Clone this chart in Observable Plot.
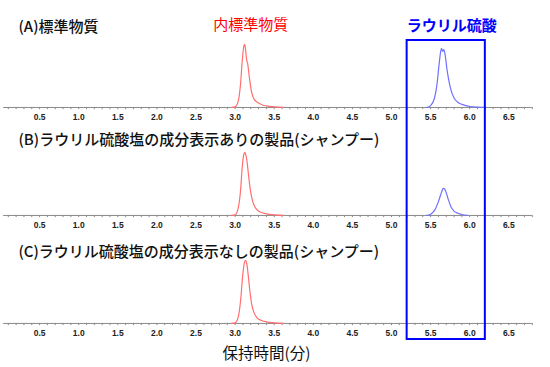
<!DOCTYPE html>
<html><head><meta charset="utf-8">
<script src="https://cdn.jsdelivr.net/npm/d3@7"></script>
<script src="https://cdn.jsdelivr.net/npm/@observablehq/plot@0.6"></script>
<style>body{margin:0;background:#fff}</style>
</head><body><div id="chart"></div>
<script>
// ---- data ----
const panelTitles = ["(A)標準物質", "(B)ラウリル硫酸塩の成分表示ありの製品(シャンプー)", "(C)ラウリル硫酸塩の成分表示なしの製品(シャンプー)"];
const tickLabels = ["0.5","1.0","1.5","2.0","2.5","3.0","3.5","4.0","4.5","5.0","5.5","6.0","6.5"];
const xLabel = "保持時間(分)";
const istdLabel = "内標準物質";
const sdsLabel = "ラウリル硫酸";
// retention time (min), relative intensity
const redA_t = [2.95,3.00,3.04,3.07,3.09,3.11,3.12,3.13,3.14,3.15,3.16,3.18,3.20,3.22,3.25,3.30,3.35,3.40,3.50,3.62];
const redA_v = [0,0.01,0.10,0.38,0.72,0.96,1.00,0.96,0.84,0.74,0.70,0.50,0.32,0.20,0.12,0.07,0.04,0.025,0.01,0];
const blueA_t = [5.45,5.50,5.55,5.58,5.61,5.63,5.64,5.655,5.67,5.69,5.71,5.73,5.76,5.80,5.85,5.90,5.95,6.00,6.10,6.20];
const blueA_v = [0,0.03,0.15,0.35,0.70,0.90,0.94,0.89,0.92,0.80,0.60,0.45,0.28,0.15,0.08,0.05,0.03,0.015,0.005,0];
const redB_t = [2.95,3.00,3.04,3.07,3.09,3.11,3.125,3.135,3.15,3.17,3.19,3.21,3.24,3.28,3.33,3.40,3.50,3.62];
const redB_v = [0,0.01,0.12,0.40,0.75,0.96,1.00,0.97,0.88,0.66,0.45,0.30,0.17,0.09,0.05,0.025,0.01,0];
const blueB_t = [5.45,5.50,5.55,5.60,5.64,5.66,5.68,5.70,5.73,5.76,5.80,5.85,5.90,5.97];
const blueB_v = [0,0.02,0.08,0.22,0.37,0.43,0.42,0.36,0.24,0.14,0.07,0.035,0.015,0];
const redC_t = [2.95,3.00,3.04,3.07,3.10,3.12,3.135,3.15,3.17,3.19,3.21,3.24,3.28,3.33,3.40,3.50,3.62];
const redC_v = [0,0.01,0.10,0.36,0.80,0.97,1.00,0.94,0.74,0.50,0.32,0.18,0.09,0.05,0.025,0.01,0];
const sdsWindow = [5.2, 6.2];

// ---- layout ----
const stride = 1.714;                 // panel spacing in intensity units
const bases = [0, -stride, -2*stride];
const titleRise = [80/63, 75/63, 71/63];
const axisExtent = [0.04, 6.8];
const RED = "#ff6f6f", BLUE = "#7070ff";

const series = [];
function add(ts, vs, panel, color) {
  ts.forEach((t, i) => series.push({t, v: vs[i], y: bases[panel] + vs[i], key: panel + color, color}));
}
add(redA_t, redA_v, 0, RED); add(blueA_t, blueA_v, 0, BLUE);
add(redB_t, redB_v, 1, RED); add(blueB_t, blueB_v, 1, BLUE);
add(redC_t, redC_v, 2, RED);

const minor = d3.range(1, 69).map(i => i / 10);
const minorRows = bases.flatMap(b => minor.map(x => ({x, b})));
const labelRows = bases.flatMap(b => tickLabels.map(l => ({x: +l, l, b})));
const titleRows = panelTitles.map((t, i) => ({t, y: bases[i] + titleRise[i]}));

const JP = "'Noto Sans CJK JP', 'Noto Sans', sans-serif";

const chart = Plot.plot({
  width: 550, height: 367,
  marginTop: 0, marginRight: 0, marginBottom: 0, marginLeft: 0,
  x: {domain: [0, 550/78.2], axis: null},
  y: {domain: [1.698 - 367/63, 1.698], axis: null},
  marks: [
    Plot.ruleY(bases, {x1: axisExtent[0], x2: axisExtent[1], y: d => d, stroke: "#8a8a8a", strokeWidth: 1}),
    Plot.ruleX(minorRows, {x: "x", y1: "b", y2: d => d.b - 0.035, stroke: "#8a8a8a", strokeWidth: 1}),
    Plot.text(labelRows, {x: "x", y: "b", text: "l", dy: 10, fontSize: 8.5, fontWeight: "bold", fontFamily: "'Liberation Sans', Arial, sans-serif", fill: "#222"}),
    Plot.line(series, {x: "t", y: "y", z: "key", stroke: "color", strokeWidth: 1.2, curve: "monotone-x"}),
    Plot.text(titleRows, {x: 0.23, y: "y", text: "t", textAnchor: "start", fontSize: 15, fontWeight: 500, fontFamily: JP, fill: "#111"}),
    Plot.text([istdLabel], {x: 3.2, y: 1.698 - 25/63, text: d => d, fontSize: 15, fontFamily: JP, fill: "#ff0000"}),
    Plot.text([sdsLabel], {x: 5.77, y: 1.698 - 26/63, text: d => d, fontSize: 15, fontWeight: "bold", fontFamily: JP, fill: "#0000ff"}),
    Plot.rect([sdsWindow], {x1: d => d[0], x2: d => d[1], y1: 1.698 - 40/63, y2: 1.698 - 339/63, fill: "none", stroke: "#0000ff", strokeWidth: 2}),
    Plot.text([xLabel], {x: 3.40, y: 1.698 - 354/63, text: d => d, fontSize: 15.5, fontFamily: JP, fill: "#111"})
  ]
});
document.getElementById("chart").append(chart);
</script>
</body></html>
